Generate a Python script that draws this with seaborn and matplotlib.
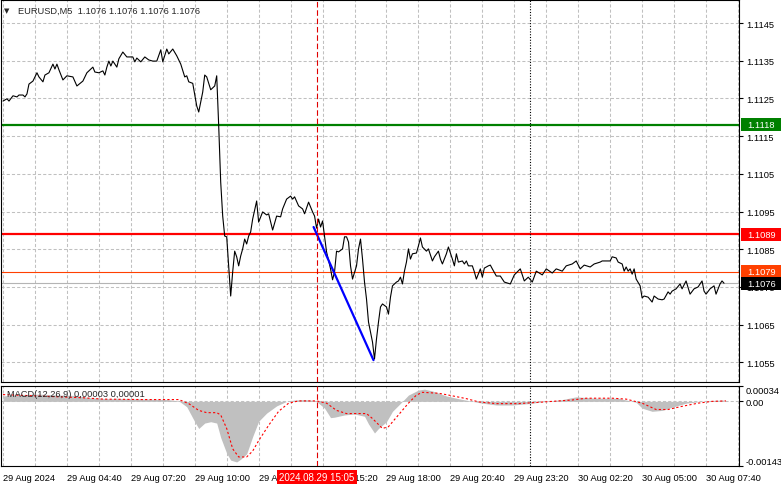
"""
EURUSD M5 chart with MACD(12,26,9) sub-window, MT4 style.
"""
import matplotlib
matplotlib.use('Agg')
import matplotlib.pyplot as plt
import pandas as pd
import seaborn as sns
from matplotlib.patches import Rectangle
from matplotlib.transforms import blended_transform_factory

# M5 bar number (counted from 29 Aug 02:00) and close price
bar_idx = [
    0, 2, 3, 5, 7, 8, 10, 11, 12, 13, 15, 17, 18, 20, 21, 23, 25, 26, 27, 28,
    30, 32, 35, 37, 40, 42, 45, 46, 48, 50, 51, 52, 53, 54, 55, 57, 58, 60, 62, 65,
    66, 67, 69, 71, 73, 75, 77, 79, 80, 82, 83, 85, 87, 89, 91, 92, 93, 95, 97, 98,
    100, 101, 102, 104, 106, 107, 108, 109, 110, 111, 112, 113, 114, 115, 116, 117, 118, 119, 120, 121,
    122, 123, 124, 125, 127, 128, 130, 132, 133, 135, 137, 139, 140, 142, 144, 145, 146, 148, 150, 151,
    153, 155, 156, 157, 158, 159, 160, 162, 164, 165, 166, 167, 168, 170, 171, 172, 173, 174, 175, 177,
    178, 179, 180, 181, 182, 183, 185, 186, 187, 188, 189, 190, 192, 193, 194, 195, 197, 198, 199, 200,
    201, 202, 203, 204, 205, 207, 208, 209, 210, 212, 213, 215, 216, 218, 219, 220, 222, 223, 225, 226,
    227, 228, 230, 231, 232, 233, 235, 236, 237, 239, 240, 241, 243, 244, 245, 247, 249, 251, 254, 256,
    259, 261, 263, 265, 267, 270, 272, 275, 277, 280, 282, 285, 287, 289, 291, 294, 296, 299, 300, 304,
    305, 307, 308, 310, 311, 312, 313, 314, 315, 316, 317, 319, 320, 321, 323, 325, 326, 328, 330, 331,
    333, 334, 335, 337, 339, 340, 342, 344, 346, 348, 350, 351, 352, 354, 356, 357, 359, 360, 361,
]
close = [
    1.11243, 1.11249, 1.11243, 1.11257, 1.11254, 1.11259, 1.11259, 1.11254, 1.11262, 1.11288,
    1.11296, 1.11318, 1.11307, 1.11294, 1.11312, 1.11318, 1.11341, 1.11328, 1.11341, 1.11326,
    1.11299, 1.11310, 1.11307, 1.11283, 1.11296, 1.11318, 1.11333, 1.11320, 1.11318, 1.11323,
    1.11312, 1.11333, 1.11349, 1.11336, 1.11349, 1.11333, 1.11355, 1.11373, 1.11360, 1.11360,
    1.11347, 1.11357, 1.11347, 1.11360, 1.11352, 1.11349, 1.11349, 1.11379, 1.11347, 1.11381,
    1.11368, 1.11381, 1.11363, 1.11341, 1.11307, 1.11310, 1.11294, 1.11290, 1.11230, 1.11214,
    1.11267, 1.11312, 1.11307, 1.11273, 1.11283, 1.11310, 1.11177, 1.11028, 1.10938, 1.10885,
    1.10883, 1.10806, 1.10726, 1.10790, 1.10845, 1.10830, 1.10806, 1.10832, 1.10851, 1.10877,
    1.10864, 1.10885, 1.10896, 1.10930, 1.10978, 1.10922, 1.10949, 1.10941, 1.10944, 1.10901,
    1.10938, 1.10936, 1.10957, 1.10983, 1.10991, 1.10983, 1.10989, 1.10965, 1.10957, 1.10944,
    1.10975, 1.10949, 1.10938, 1.10906, 1.10930, 1.10909, 1.10925, 1.10843, 1.10798, 1.10769,
    1.10790, 1.10845, 1.10843, 1.10851, 1.10883, 1.10883, 1.10869, 1.10806, 1.10771, 1.10806,
    1.10851, 1.10877, 1.10824, 1.10763, 1.10718, 1.10657, 1.10604, 1.10559, 1.10612, 1.10657,
    1.10697, 1.10705, 1.10697, 1.10678, 1.10723, 1.10753, 1.10763, 1.10766, 1.10776, 1.10758,
    1.10792, 1.10816, 1.10851, 1.10824, 1.10838, 1.10840, 1.10859, 1.10880, 1.10856, 1.10845,
    1.10851, 1.10819, 1.10830, 1.10845, 1.10824, 1.10811, 1.10838, 1.10856, 1.10824, 1.10806,
    1.10838, 1.10816, 1.10819, 1.10811, 1.10819, 1.10806, 1.10806, 1.10790, 1.10771, 1.10798,
    1.10776, 1.10800, 1.10806, 1.10808, 1.10798, 1.10779, 1.10779, 1.10763, 1.10758, 1.10782,
    1.10798, 1.10766, 1.10776, 1.10763, 1.10792, 1.10782, 1.10798, 1.10787, 1.10798, 1.10792,
    1.10806, 1.10811, 1.10819, 1.10798, 1.10808, 1.10803, 1.10811, 1.10816, 1.10819, 1.10819,
    1.10830, 1.10827, 1.10816, 1.10811, 1.10792, 1.10803, 1.10792, 1.10798, 1.10784, 1.10798,
    1.10771, 1.10753, 1.10721, 1.10726, 1.10723, 1.10710, 1.10726, 1.10718, 1.10716, 1.10718,
    1.10737, 1.10731, 1.10739, 1.10745, 1.10758, 1.10745, 1.10766, 1.10731, 1.10745, 1.10750,
    1.10766, 1.10739, 1.10731, 1.10745, 1.10753, 1.10731, 1.10758, 1.10766, 1.10760,
]

# MACD main (histogram) and signal line
macd_bars = [0, 8, 18, 28, 37, 43, 53, 63, 73, 82, 88, 92, 96, 98, 101, 104, 107, 109, 112, 114,
             117, 119, 122, 125, 128, 132, 137, 142, 146, 151, 156, 158, 161, 164, 166, 171, 176, 181, 183, 186,
             188, 192, 195, 200, 203, 208, 211, 215, 222, 228, 235, 240, 247, 255, 263, 272, 280, 287, 297, 308,
             317, 320, 325, 330, 335, 342, 348, 355, 361]
macd_main = [0.00012, 0.00015, 0.00016, 0.00014, 0.00013, 0.00008, 0.00006, 0.00006, 0.00005, 0.00004,
             0.00001, -0.00012, -0.00045, -0.00060, -0.00048, -0.00045, -0.00048, -0.00080, -0.00115, -0.00130,
             -0.00134, -0.00128, -0.00116, -0.00078, -0.00044, -0.00026, -0.00010, 0.00000, 0.00003, 0.00004,
             0.00002, -0.00004, -0.00015, -0.00036, -0.00035, -0.00030, -0.00028, -0.00033, -0.00050, -0.00070,
             -0.00060, -0.00045, -0.00022, 0.00000, 0.00014, 0.00025, 0.00027, 0.00023, 0.00012, 0.00006,
             0.00000, -0.00004, -0.00008, -0.00008, -0.00005, 0.00000, 0.00004, 0.00010, 0.00007, 0.00007,
             -0.00002, -0.00015, -0.00022, -0.00020, -0.00013, -0.00004, -0.00001, 0.00002, 0.00003]
signal_bars = [0, 40, 50, 70, 88, 93, 98, 102, 107, 109, 112, 115, 118, 122, 125, 128, 133, 138, 143, 148,
               157, 162, 167, 172, 182, 185, 190, 193, 198, 203, 207, 210, 218, 223, 232, 238, 247, 258, 265, 275,
               285, 292, 305, 312, 320, 327, 333, 340, 348, 355, 362]
macd_signal = [0.00015, 0.00008, 0.00005, 0.00004, 0.00004, -0.00005, -0.00020, -0.00025, -0.00025, -0.00030,
               -0.00060, -0.00105, -0.00123, -0.00123, -0.00110, -0.00087, -0.00053, -0.00022, -0.00004, 0.00001,
               0.00001, -0.00004, -0.00020, -0.00027, -0.00027, -0.00038, -0.00060, -0.00056, -0.00030, -0.00004,
               0.00014, 0.00020, 0.00018, 0.00014, 0.00006, -0.00001, -0.00005, -0.00005, -0.00003, 0.00000,
               0.00003, 0.00007, 0.00007, 0.00005, -0.00004, -0.00018, -0.00018, -0.00011, -0.00004, 0.00000,
               0.00001]

# axis labels
time_tick_bars = [0, 32, 64, 96, 128, 160, 192, 224, 256, 288, 320, 352]
time_tick_labels = ['29 Aug 2024', '29 Aug 04:40', '29 Aug 07:20', '29 Aug 10:00', '29 Aug 12:40',
                    '29 Aug 15:20', '29 Aug 18:00', '29 Aug 20:40', '29 Aug 23:20', '30 Aug 02:20',
                    '30 Aug 05:00', '30 Aug 07:40']
price_ticks = [1.1055, 1.1065, 1.1075, 1.1085, 1.1095, 1.1105, 1.1115, 1.1125, 1.1135, 1.1145]
macd_ticks = [0.00034, 0.0, -0.00143]
macd_tick_labels = ['0.00034', '0.00', '-0.00143']

# horizontal levels (price, colour)
level_prices = [1.1118, 1.1089, 1.1079, 1.1076]
level_colors = ['#008000', '#FF0000', '#FF4000', '#000000']
level_line_colors = ['#008000', '#FF0000', '#FF4000', '#B4B4B4']
level_widths = [1.6, 1.6, 0.8, 0.8]

# blue trend line
trend_bars = [155.5, 185.5]
trend_prices = [1.10909, 1.10556]

cursor_bar = 157
cursor_label = '2024.08.29 15:05'
dotted_bar = 264

FS = 6.7
GRID = '#C0C0C0'

sns.set_style('white')
plt.rcParams['font.family'] = ['Liberation Sans', 'DejaVu Sans']

W, H = 781, 489
fig = plt.figure(figsize=(W / 100, H / 100), dpi=100)
ax = fig.add_axes([1 / W, 1 - 383 / H, 738 / W, 382 / H])
axm = fig.add_axes([1 / W, 1 - 467 / H, 738 / W, 80 / H], sharex=ax)

x_min, x_max = -1, 368.5

# grid
for a in (ax, axm):
    for b in range(0, 369, 16):
        a.axvline(b, color=GRID, lw=0.75, ls=(0, (3, 2)), zorder=0)
for p in price_ticks:
    ax.axhline(p, color=GRID, lw=0.75, ls=(0, (3, 2)), zorder=0)
axm.axhline(0, color=GRID, lw=0.75, ls=(0, (3, 2)), zorder=0)

# levels
for p, c, w in zip(level_prices, level_line_colors, level_widths):
    ax.axhline(p, color=c, lw=w, zorder=2)

# price
df = pd.DataFrame({'bar': bar_idx, 'close': close})
sns.lineplot(data=df, x='bar', y='close', ax=ax, color='black', lw=0.8, estimator=None, zorder=3)
sns.lineplot(x=trend_bars, y=trend_prices, ax=ax, color='#0000FF', lw=1.6, zorder=4)

# MACD
axm.fill_between(macd_bars, 0, macd_main, color='#C0C0C0', lw=0, zorder=1)
dfs = pd.DataFrame({'bar': signal_bars, 'signal': macd_signal})
sns.lineplot(data=dfs, x='bar', y='signal', ax=axm, color='#FF0000', lw=0.8,
             ls=(0, (2, 2)), estimator=None, zorder=3)

# vertical lines across both panels
for a in (ax, axm):
    a.axvline(cursor_bar, color='#E00000', lw=0.8, ls=(0, (5, 2.5)), zorder=5)
    a.axvline(dotted_bar, color='black', lw=0.8, ls=(0, (1, 1.5)), zorder=5)

ax.set_xlim(x_min, x_max)
ax.set_ylim(1.10498, 1.11511)
axm.set_ylim(-0.00143, 0.00034)

for a in (ax, axm):
    a.set_xlabel('')
    a.set_ylabel('')
    for s in a.spines.values():
        s.set_color('black')
        s.set_linewidth(0.8)
    a.yaxis.tick_right()
    a.tick_params(axis='y', direction='out', length=3, width=0.8, pad=2, labelsize=FS, colors='black')

ax.set_yticks(price_ticks)
ax.set_yticklabels([f'{p:.4f}' for p in price_ticks])
ax.tick_params(axis='x', bottom=False, labelbottom=False)

axm.set_yticks(macd_ticks)
axm.set_yticklabels(macd_tick_labels)
lbls = axm.get_yticklabels()
lbls[0].set_va('top')
lbls[-1].set_va('bottom')

axm.set_xticks(time_tick_bars)
axm.set_xticklabels(time_tick_labels, ha='left')
axm.tick_params(axis='x', direction='out', length=3, width=0.8, pad=2, labelsize=FS, colors='black')

# price labels on right axis
tr = blended_transform_factory(ax.transAxes, ax.transData)
half = 6.5 * (1.11511 - 1.10498) / 382
for p, c in zip(level_prices, level_colors):
    ax.add_patch(Rectangle((1.0027, p - half), 0.055, 2 * half, transform=tr,
                           fc=c, ec='none', clip_on=False, zorder=10))
    ax.text(1.0108, p, f'{p:.4f}', transform=tr, ha='left', va='center',
            color='white', fontsize=FS, clip_on=False, zorder=11)

# headers
ax.text(0.008, 0.974, '\u25bc', transform=ax.transAxes, fontsize=5, ha='center', va='center',
        family='DejaVu Sans')
ax.text(0.023, 0.974, 'EURUSD,M5  1.1076 1.1076 1.1076 1.1076', transform=ax.transAxes,
        fontsize=FS, ha='left', va='center')
axm.text(0.008, 0.9, 'MACD(12,26,9) 0,00003 0,00001', transform=axm.transAxes,
         fontsize=FS, ha='left', va='center', zorder=6)

# cursor time box
fig.text(317 / W, 1 - 478 / H, cursor_label, ha='center', va='center', color='white',
         fontsize=FS + 0.3, bbox=dict(boxstyle='square,pad=0.25', fc='#FF0000', ec='none'))

fig.savefig('out.png', dpi=100, facecolor='white')
